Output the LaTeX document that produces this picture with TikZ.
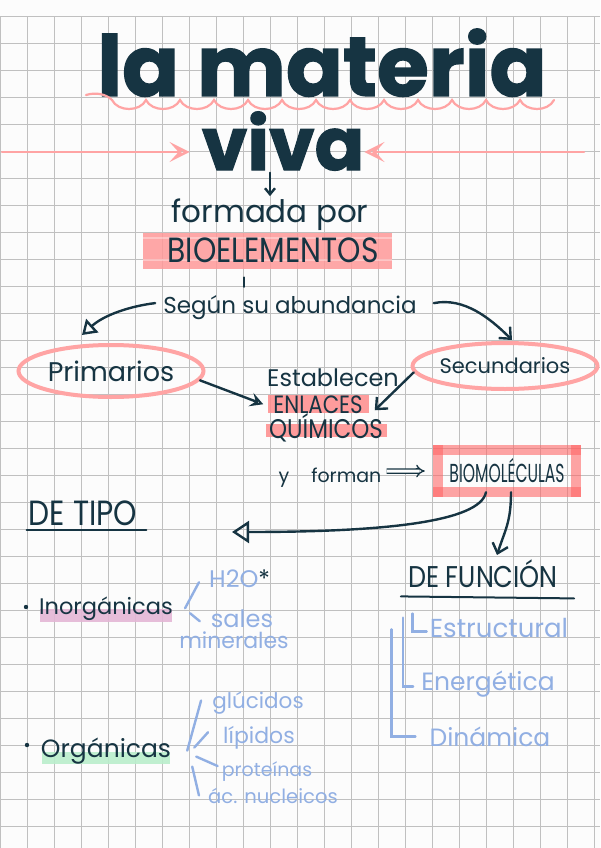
\documentclass[tikz,border=0pt]{standalone}
\usepackage{fontspec}
\setmainfont{Poppins}
\newfontfamily\titlefont{Poppins}[BoldFeatures={FakeBold=1.5}]
\newfontfamily\capsfont{Poppins}[FakeStretch=0.85]
\newfontfamily\narrowfont{Poppins}[FakeStretch=0.6]
\usetikzlibrary{arrows.meta,shapes.geometric}

\definecolor{ink}{RGB}{22,52,66}
\definecolor{rosa}{RGB}{255,164,164}
\definecolor{rosafuerte}{RGB}{255,100,100}
\definecolor{marca}{RGB}{255,153,153}
\definecolor{marcafuerte}{RGB}{255,140,140}
\definecolor{azul}{RGB}{145,175,227}
\definecolor{lila}{RGB}{228,183,214}
\definecolor{menta}{RGB}{186,238,204}
\definecolor{rejilla}{RGB}{192,192,192}
\definecolor{papel}{RGB}{252,252,252}

\newcommand{\fsz}[1]{\fontsize{#1}{#1}\selectfont}

\begin{document}
\begin{tikzpicture}[
  x=1pt, y=-1pt,
  hand/.style={font=\fsz{#1}, text=ink, inner sep=0pt, anchor=base},
  hcaps/.style={font=\capsfont\fsz{#1}, text=ink, inner sep=0pt, anchor=base},
  azultxt/.style={font=\fsz{#1}, text=azul, inner sep=0pt, anchor=base},
  oval/.style={ellipse, draw=rosa, line width=4pt, inner sep=0pt, text=ink},
  cajarosa/.style={draw=rosafuerte, opacity=0.58, line width=10pt, line cap=rect},
  flecha/.style={draw=ink, line width=2.4pt, line cap=round},
  flecharosa/.style={draw=rosa, line width=2.5pt, line cap=round,
                     -{Stealth[open,length=20pt,width=20pt,inset=9pt]}},
  rama/.style={draw=azul, line width=2.4pt, line cap=round},
  trazo/.style={draw=ink, line width=2pt, line cap=round},
]
\useasboundingbox (0,0) rectangle (600,848);

%% ── PAPER & GRID ─────────────────────────────────────────────────────────────
\fill[papel] (0,0) rectangle (600,848);
\foreach \gx in {0,...,22} \draw[rejilla, line width=0.9pt] (0.5+27*\gx,16.5) -- (0.5+27*\gx,848);
\foreach \gy in {0,...,30} \draw[rejilla, line width=0.9pt] (0,16.5+27*\gy) -- (600,16.5+27*\gy);

%% ── HIGHLIGHTS ───────────────────────────────────────────────────────────────
\fill[marca, fill opacity=0.85] (143,233) rectangle (392,269);
\draw[white, opacity=0.35, line width=1.2pt] (143,238) -- (392,238) (143,260) -- (392,260);
\fill[marcafuerte, fill opacity=0.85] (268,395) rectangle (369,413);
\fill[marcafuerte, fill opacity=0.85] (266,424) rectangle (387,437);
\fill[lila, fill opacity=0.9] (40,609) rectangle (172,622);
\fill[menta, fill opacity=0.9] (42,752) rectangle (170,764);

%% ── TITLE ────────────────────────────────────────────────────────────────────
\node[font=\titlefont\bfseries\fsz{84}, text=ink, inner sep=0pt, anchor=base] (titulo) at (322,96) {la materia};
\node[font=\titlefont\bfseries\fsz{73}, text=ink, inner sep=0pt, anchor=base] (viva) at (283,170) {viva};
\draw[draw=rosa, line width=2.2pt, line cap=round] (86,95) .. controls (96,92) and (106,94) .. (112,100)
  \foreach \i in {1,...,13} { .. controls +(6,12) and +(-6,12) .. ++(34,0) };
\coordinate (pl) at (2,152);
\coordinate (pr) at (584,152);
\draw[flecharosa, shorten >=12pt] (pl) -- (viva.west |- pl);
\draw[flecharosa] (pr) -- (viva.east |- pr);

%% ── BIOELEMENTOS ─────────────────────────────────────────────────────────────
\node[hand=31] (formada) at (270,222) {formada por};
\node[hcaps=35] (bioel) at (273,262) {BIOELEMENTOS};
\node[hand=23] (segun) at (290,313) {Según su abundancia};
\node[oval, font=\fsz{27}, minimum width=185pt, minimum height=52pt] (prim) at (111,371) {Primarios};
\node[oval, font=\fsz{21}, minimum width=166pt, minimum height=46pt] (sec) at (505,366) {Secundarios};

%% ── ENLACES ──────────────────────────────────────────────────────────────────
\node[hand=24] (estab) at (333,386) {Establecen};
\node[hcaps=25] (enl) at (318,413) {ENLACES};
\node[hcaps=27] (quim) at (326,438) {QUÍMICOS};
\node[hand=19] (forman) at (330,482) {y\hspace{22pt}forman};
\node[inner sep=0pt, minimum width=138pt, minimum height=42pt, text=ink,
      font=\narrowfont\fsz{26}] (biomol) at (507,471) {BIOMOLÉCULAS};
\draw[cajarosa] (biomol.north west) -- (biomol.north east);
\draw[cajarosa] (biomol.north east) -- (biomol.south east);
\draw[cajarosa] (biomol.south east) -- (biomol.south west);
\draw[cajarosa] (biomol.south west) -- (biomol.north west);

%% ── DE TIPO ──────────────────────────────────────────────────────────────────
\node[hcaps=35] (detipo) at (83,525) {DE TIPO};
\draw[trazo] ([shift={(-2pt,-5pt)}]detipo.south west) -- ([shift={(9pt,-5pt)}]detipo.south east);
\fill[ink] (26,607) circle (2.2pt);
\node[hand=22.5] (inorg) at (106,614) {Inorgánicas};
\node[azultxt=24, anchor=base west] (h2o) at (209,587) {H2O\textcolor{ink}{*}};
\node[azultxt=24] (sales) at (242,627) {sales};
\node[azultxt=22] (miner) at (234,648) {minerales};
\fill[ink] (27,745) circle (2.2pt);
\node[hand=25] (org) at (106,757) {Orgánicas};
\node[azultxt=21.5] (gluc) at (258,708) {glúcidos};
\node[azultxt=22] (lip) at (259,743) {lípidos};
\node[azultxt=19] (prot) at (267,776) {proteínas};
\node[azultxt=19.6] (acn) at (273,803) {ác. nucleicos};

%% ── DE FUNCIÓN ───────────────────────────────────────────────────────────────
\node[hcaps=30] (defun) at (483,587) {DE FUNCIÓN};
\draw[trazo] ([shift={(-7pt,-9pt)}]defun.south west) -- ([shift={(16pt,-11pt)}]defun.south east);
\node[azultxt=26] (estr) at (499,637) {Estructural};
\node[azultxt=25] (ener) at (488,690) {Energética};
\node[azultxt=25] (din) at (490,746) {Dinámica};

%% ── INK ARROWS ───────────────────────────────────────────────────────────────
\draw[flecha, -{Straight Barb[length=6pt,width=10pt]}] ([yshift=-2pt]formada.north |- viva.south) -- ([yshift=2pt]formada.north);
\draw[trazo, shorten <=15pt, shorten >=8pt] ([xshift=-29pt]bioel.south) -- ([xshift=-46pt]segun.north);
\draw[flecha, -{Triangle[open,length=14pt,width=18pt]}]
  ([xshift=-8pt,yshift=4pt]segun.west) .. controls +(-25,3) and +(22,-20) .. ([xshift=-29pt,yshift=8pt]prim.north);
\draw[flecha, -{Straight Barb[length=9pt,width=16pt]}]
  ([xshift=17pt,yshift=4pt]segun.east) .. controls +(30,-6) and +(-22,-22) .. ([xshift=7pt,yshift=1pt]sec.north);
\draw[flecha, -{Stealth[open,length=13pt,width=14pt,inset=5pt]}] (prim.-6) -- ([xshift=-10pt]enl.west);
\draw[flecha, -{Straight Barb[length=9pt,width=16pt]}] (sec.184) -- ([xshift=12pt,yshift=-6pt]enl.east);
\draw[draw=ink, line width=1.3pt, double, double distance=3pt, -{Implies}]
  ([xshift=5pt,yshift=6pt]forman.east) -- ([xshift=-13pt]biomol.west);
\coordinate (tipo) at (232,532);
\draw[flecha, -{Triangle[open,length=17pt,width=22pt]}]
  ([xshift=-21pt]biomol.south) .. controls +(-6,30) and +(150,0) .. (tipo);
\draw[flecha, -{Straight Barb[length=9pt,width=16pt]}]
  ([xshift=4pt]biomol.south) .. controls +(0,30) and +(8,-25) .. ([xshift=14pt,yshift=4pt]defun.north);

%% ── BLUE BRANCHES ────────────────────────────────────────────────────────────
\draw[rama] ([xshift=12pt]inorg.east) -- ([xshift=-10pt,yshift=-4pt]h2o.west);
\draw[rama] ([xshift=17pt,yshift=-5pt]inorg.east) -- ([xshift=-11pt,yshift=-3pt]sales.west);
\draw[rama] ([xshift=16pt]org.east) -- ([xshift=-11pt,yshift=2pt]gluc.west);
\draw[rama] ([xshift=23pt,yshift=3pt]org.east) -- ([xshift=-15pt,yshift=5pt]lip.west);
\draw[rama] ([xshift=25pt,yshift=-6pt]org.east) -- ([xshift=-4pt,yshift=5pt]prot.west);
\draw[rama] ([xshift=21pt,yshift=-16pt]org.east) -- ([xshift=-9pt]acn.west);
\draw[rama] ([xshift=-38pt,yshift=107pt]din.west) |- ([xshift=-14pt]din.west);
\draw[rama] ([xshift=-18pt,yshift=66pt]ener.west) |- ([xshift=-8pt,yshift=-3pt]ener.west);
\draw[rama] ([xshift=-17pt,yshift=14pt]estr.west) |- ([xshift=-3pt,yshift=-4pt]estr.west);
\end{tikzpicture}
\end{document}
